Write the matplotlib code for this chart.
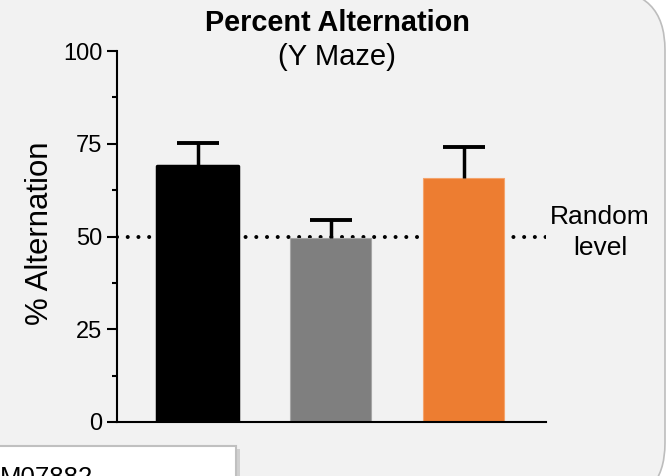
import matplotlib
matplotlib.use("Agg")
import matplotlib.pyplot as plt
from matplotlib.patches import FancyBboxPatch, Rectangle
from matplotlib.transforms import IdentityTransform
from matplotlib.ticker import MultipleLocator

plt.rcParams['font.family'] = ['Liberation Sans', 'DejaVu Sans']

# ---- data ----
groups = ["Group 1", "Group 2", "Group 3"]
means = [69.0, 49.5, 65.9]
sems = [6.3, 4.9, 8.3]
colors = ["#000000", "#7f7f7f", "#ed7d31"]
random_level = 50
yticks = [0, 25, 50, 75, 100]

W, H = 666, 476
fig = plt.figure(figsize=(W / 100, H / 100), dpi=100)
fig.patch.set_facecolor("white")

left_, top_, right_, bottom_ = -80, -10, 665, 503
panel = FancyBboxPatch((left_, H - bottom_), right_ - left_, bottom_ - top_,
                       boxstyle="round,pad=0,rounding_size=60",
                       transform=IdentityTransform(), facecolor="#f2f2f2",
                       edgecolor="#bdbdbd", linewidth=1.2, zorder=-3)
fig.patches.append(panel)

shadow = Rectangle((-10, H - 480), 250, 480 - 449, transform=IdentityTransform(),
                   facecolor="#d0d0d0", edgecolor="none", zorder=-2)
fig.patches.append(shadow)
wbox = Rectangle((-10, H - 480), 246, 480 - 446, transform=IdentityTransform(),
                 facecolor="white", edgecolor="#c0c0c0", linewidth=1.5, zorder=-1)
fig.patches.append(wbox)
fig.text(0 / W, 1 - 485 / H, "M07882", fontsize=18.5, ha="left", va="baseline",
         color="black", zorder=3)

ax = fig.add_axes([117 / W, 1 - 422 / H, (546 - 117) / W, (422 - 51) / H])
ax.set_facecolor("none")
x = list(range(len(groups)))

ax.axhline(random_level, color="black", linewidth=2.9,
           linestyle=(0, (0.01, 2.65)), dash_capstyle="round", zorder=1)

bars = ax.bar(x, means, width=0.61, color=colors, zorder=2)
bars[0].set_edgecolor("black")
bars[0].set_linewidth(2.5)
bars[0].set_joinstyle("round")
bars[1].set_edgecolor("#a6a6a6")
bars[1].set_linewidth(0.8)
bars[2].set_edgecolor("#f4a46c")
bars[2].set_linewidth(0.8)

eb = ax.errorbar(x, means, yerr=[[0] * len(sems), sems], fmt="none", ecolor="black",
                 elinewidth=2.5, capsize=14.8, capthick=2.8, zorder=3)
caps = eb[1]
if len(caps) >= 2:
    caps[0].set_visible(False)

ax.set_xlim(-0.609, 2.62)
ax.set_ylim(0, 100)
ax.set_xticks([])
ax.set_yticks(yticks)
ax.yaxis.set_minor_locator(MultipleLocator(12.5))
ax.tick_params(axis="y", which="major", length=7, width=1.5, labelsize=17, pad=3.5)
ax.tick_params(axis="y", which="minor", length=3.6, width=1.5)
for s in ["top", "right"]:
    ax.spines[s].set_visible(False)
for s in ["left", "bottom"]:
    ax.spines[s].set_linewidth(1.5)

fig.text(40 / W, 1 - 233 / H, "% Alternation", rotation=90, fontsize=22.4,
         ha="center", va="center")

fig.text(337 / W, 1 - 31 / H, "Percent Alternation", fontsize=20.8, fontweight="bold",
         ha="center", va="baseline")
fig.text(337 / W, 1 - 65 / H, "(Y Maze)", fontsize=21, ha="center", va="baseline")

fig.text(600 / W, 1 - 217 / H, "Random", fontsize=19, ha="center", va="center")
fig.text(600 / W, 1 - 248 / H, "level", fontsize=19, ha="center", va="center")

fig.savefig("out.png", dpi=100, facecolor=fig.get_facecolor())
